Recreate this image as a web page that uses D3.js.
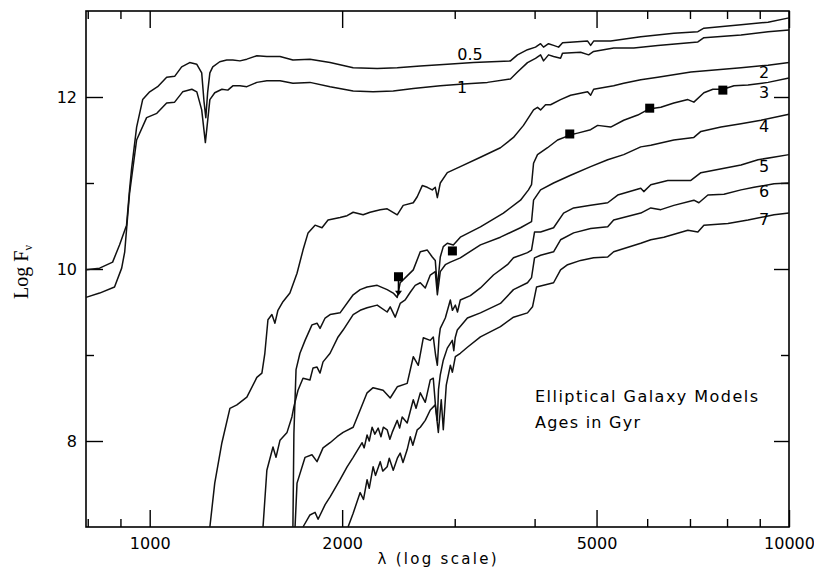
<!DOCTYPE html>
<html>
<head>
<meta charset="utf-8">
<script src="https://cdn.jsdelivr.net/npm/d3@7"></script>
<style>
  body { margin: 0; background: #fff; }
  svg { display: block; }
  .axis text { font-family: 'DejaVu Sans', sans-serif; font-size: 16px; fill: #000; }
  .axis line { stroke: #000; stroke-width: 1.4; }
  .axis path { display: none; }
  .curve { fill: none; stroke: #111; stroke-width: 1.5; stroke-linejoin: round; }
  .label { font-family: 'DejaVu Sans', sans-serif; font-size: 16px; fill: #000; }
</style>
</head>
<body>
<div id="chart"></div>
<script>
// model spectra: [wavelength (A), log F_nu], one array per age (Gyr)
var ages = ['0.5', '1', '2', '3', '4', '5', '6', '7']

var age05 = [[795, 9.99], [835, 10.01], [875, 10.08], [897, 10.28], [920, 10.51], [930, 10.92], [937, 11.17], [954, 11.65], [975, 11.97], [1000, 12.06], [1029, 12.12], [1063, 12.23], [1094, 12.24], [1122, 12.35], [1155, 12.40], [1185, 12.38], [1206, 12.28], [1216, 11.95], [1224, 11.76], [1232, 12.05], [1242, 12.28], [1255, 12.35], [1287, 12.41], [1320, 12.43], [1349, 12.43], [1384, 12.42], [1419, 12.44], [1471, 12.48], [1525, 12.47], [1599, 12.47], [1675, 12.43], [1781, 12.44], [1915, 12.40], [2081, 12.34], [2269, 12.33], [2439, 12.34], [2650, 12.36], [2921, 12.38], [3208, 12.40], [3667, 12.42], [3761, 12.49], [3899, 12.55], [4013, 12.58], [4087, 12.62], [4131, 12.58], [4206, 12.62], [4283, 12.60], [4361, 12.58], [4424, 12.63], [4604, 12.64], [4842, 12.65], [4895, 12.60], [4948, 12.65], [5261, 12.65], [5863, 12.70], [6605, 12.74], [7202, 12.76], [7360, 12.80], [8412, 12.84], [9273, 12.87], [10000, 12.92]]

var age1 = [[795, 9.67], [835, 9.72], [881, 9.79], [904, 10.01], [914, 10.20], [924, 10.63], [930, 10.88], [954, 11.50], [989, 11.76], [1026, 11.81], [1063, 11.93], [1094, 11.94], [1126, 12.06], [1164, 12.09], [1185, 12.06], [1206, 11.85], [1222, 11.47], [1242, 11.97], [1264, 12.05], [1297, 12.09], [1325, 12.08], [1349, 12.13], [1384, 12.13], [1419, 12.12], [1471, 12.17], [1525, 12.19], [1599, 12.19], [1675, 12.16], [1781, 12.17], [1915, 12.12], [2081, 12.07], [2236, 12.06], [2404, 12.07], [2584, 12.10], [2848, 12.13], [3095, 12.15], [3375, 12.17], [3667, 12.21], [3761, 12.29], [3899, 12.40], [4013, 12.45], [4087, 12.49], [4131, 12.42], [4206, 12.49], [4283, 12.47], [4392, 12.45], [4424, 12.51], [4721, 12.52], [4860, 12.49], [4948, 12.53], [5318, 12.57], [5717, 12.57], [6234, 12.60], [7202, 12.64], [7360, 12.69], [8412, 12.72], [9273, 12.76], [10000, 12.78]]

var age2 = [[1242, 7.00], [1264, 7.51], [1297, 7.98], [1335, 8.38], [1369, 8.42], [1419, 8.51], [1471, 8.74], [1498, 8.79], [1514, 9.02], [1531, 9.41], [1553, 9.47], [1570, 9.37], [1587, 9.52], [1616, 9.62], [1657, 9.72], [1700, 9.95], [1737, 10.22], [1769, 10.42], [1814, 10.51], [1860, 10.48], [1901, 10.57], [1985, 10.60], [2036, 10.62], [2081, 10.66], [2157, 10.63], [2212, 10.66], [2294, 10.69], [2352, 10.70], [2439, 10.63], [2492, 10.74], [2584, 10.77], [2621, 10.84], [2669, 10.97], [2718, 10.95], [2767, 10.92], [2797, 10.95], [2818, 10.83], [2848, 11.00], [2921, 11.12], [3061, 11.19], [3291, 11.30], [3537, 11.41], [3707, 11.53], [3843, 11.67], [3985, 11.85], [4042, 11.88], [4087, 11.85], [4161, 11.91], [4237, 11.91], [4392, 11.97], [4554, 12.02], [4842, 12.06], [4895, 12.02], [4948, 12.09], [5318, 12.13], [5514, 12.16], [5863, 12.20], [6234, 12.23], [7023, 12.29], [8412, 12.34], [9273, 12.37], [10000, 12.40]]

var age3 = [[1675, 7.00], [1681, 8.09], [1694, 8.83], [1718, 9.02], [1750, 9.17], [1794, 9.35], [1827, 9.37], [1847, 9.31], [1881, 9.43], [1915, 9.47], [1985, 9.49], [2081, 9.70], [2134, 9.76], [2188, 9.79], [2269, 9.81], [2352, 9.76], [2404, 9.72], [2439, 9.67], [2465, 9.84], [2528, 9.92], [2584, 9.99], [2650, 10.20], [2718, 10.22], [2767, 10.14], [2797, 10.10], [2818, 9.78], [2848, 10.14], [2879, 10.26], [2921, 10.30], [2985, 10.28], [3061, 10.37], [3291, 10.49], [3575, 10.65], [3802, 10.80], [3913, 10.92], [3956, 10.98], [3985, 11.23], [4042, 11.33], [4191, 11.41], [4345, 11.50], [4554, 11.56], [4671, 11.58], [4895, 11.62], [5020, 11.67], [5261, 11.65], [5514, 11.73], [5800, 11.79], [6035, 11.86], [6302, 11.88], [6605, 11.93], [6947, 11.97], [7099, 11.94], [7360, 12.05], [7603, 12.09], [7883, 12.09], [8202, 12.13], [8627, 12.14], [9273, 12.17], [10000, 12.22]]

var age4 = [[1504, 7.00], [1525, 7.66], [1559, 7.93], [1576, 7.81], [1599, 8.01], [1640, 8.10], [1669, 8.28], [1681, 8.40], [1706, 8.59], [1737, 8.73], [1781, 8.71], [1801, 8.85], [1827, 8.86], [1847, 8.79], [1867, 8.92], [1915, 9.02], [1971, 9.21], [2007, 9.29], [2081, 9.47], [2134, 9.52], [2188, 9.55], [2269, 9.58], [2352, 9.50], [2378, 9.56], [2421, 9.44], [2465, 9.60], [2510, 9.64], [2556, 9.73], [2602, 9.81], [2650, 9.84], [2698, 9.78], [2747, 9.93], [2797, 9.97], [2818, 9.70], [2848, 9.97], [2900, 10.05], [2953, 10.08], [3061, 10.13], [3291, 10.28], [3537, 10.37], [3802, 10.48], [3956, 10.55], [3985, 10.80], [4087, 10.92], [4283, 11.00], [4554, 11.09], [4895, 11.19], [5205, 11.27], [5514, 11.33], [5863, 11.42], [6079, 11.44], [6605, 11.50], [7099, 11.53], [7281, 11.60], [7826, 11.65], [8412, 11.69], [9041, 11.73], [10000, 11.80]]

var age5 = [[1688, 7.00], [1700, 7.51], [1750, 7.81], [1794, 7.84], [1827, 7.76], [1867, 7.92], [1915, 7.98], [1964, 8.05], [2007, 8.10], [2081, 8.16], [2134, 8.36], [2188, 8.56], [2236, 8.62], [2318, 8.59], [2378, 8.50], [2439, 8.63], [2528, 8.67], [2584, 8.98], [2631, 8.88], [2679, 9.20], [2747, 9.17], [2777, 9.21], [2800, 9.00], [2818, 8.88], [2835, 9.20], [2848, 9.31], [2900, 9.43], [2953, 9.64], [2975, 9.52], [3007, 9.58], [3030, 9.50], [3061, 9.64], [3174, 9.69], [3291, 9.78], [3449, 9.93], [3627, 10.05], [3707, 10.13], [3899, 10.19], [3956, 10.22], [3999, 10.43], [4087, 10.43], [4283, 10.48], [4440, 10.65], [4604, 10.71], [4895, 10.74], [5205, 10.77], [5396, 10.86], [5863, 10.94], [5927, 10.90], [6079, 10.98], [6463, 11.03], [7023, 11.03], [7281, 11.12], [8412, 11.21], [8944, 11.27], [10000, 11.33]]

var age6 = [[1737, 7.00], [1781, 7.14], [1814, 7.17], [1834, 7.09], [1881, 7.26], [1915, 7.35], [1985, 7.55], [2036, 7.70], [2081, 7.81], [2149, 7.98], [2165, 7.92], [2188, 8.07], [2205, 8.00], [2228, 8.16], [2250, 8.08], [2277, 8.15], [2300, 8.05], [2320, 8.16], [2352, 8.13], [2375, 8.02], [2395, 8.10], [2439, 8.24], [2460, 8.15], [2483, 8.28], [2528, 8.21], [2584, 8.48], [2610, 8.38], [2650, 8.56], [2698, 8.45], [2747, 8.71], [2777, 8.73], [2800, 8.40], [2818, 8.24], [2830, 8.60], [2848, 8.77], [2879, 8.94], [2921, 9.08], [2974, 9.17], [2990, 9.05], [3005, 9.20], [3028, 9.29], [3140, 9.43], [3291, 9.49], [3537, 9.60], [3707, 9.76], [3899, 9.84], [3956, 9.90], [3999, 10.13], [4087, 10.16], [4283, 10.20], [4392, 10.34], [4604, 10.42], [4895, 10.47], [5205, 10.49], [5318, 10.57], [5863, 10.65], [6079, 10.71], [6302, 10.69], [6605, 10.74], [7099, 10.80], [7228, 10.77], [7467, 10.86], [7911, 10.87], [8412, 10.92], [8816, 10.95], [9476, 10.99], [10000, 11.00]]

var age7 = [[2043, 7.00], [2081, 7.16], [2134, 7.40], [2160, 7.32], [2188, 7.55], [2205, 7.45], [2236, 7.70], [2255, 7.60], [2294, 7.76], [2315, 7.65], [2352, 7.70], [2370, 7.80], [2404, 7.66], [2440, 7.80], [2465, 7.86], [2490, 7.75], [2528, 7.90], [2556, 8.05], [2580, 7.95], [2621, 8.13], [2650, 8.16], [2698, 8.24], [2747, 8.36], [2797, 8.42], [2828, 8.10], [2858, 8.48], [2879, 8.13], [2910, 8.65], [2953, 8.88], [2975, 8.80], [3007, 8.98], [3061, 9.02], [3140, 9.09], [3291, 9.21], [3537, 9.33], [3707, 9.44], [3899, 9.49], [3970, 9.56], [4028, 9.79], [4283, 9.84], [4392, 9.99], [4505, 10.05], [4721, 10.10], [4948, 10.13], [5205, 10.14], [5318, 10.20], [5863, 10.30], [6079, 10.34], [6371, 10.37], [6947, 10.45], [7202, 10.43], [7360, 10.51], [8026, 10.53], [8627, 10.57], [9476, 10.63], [10000, 10.65]]

var spectra = [age05, age1, age2, age3, age4, age5, age6, age7]

// observed points (filled squares)
var obsLambda = [2450, 2975, 4540, 6055, 7880]
var obsLogF = [9.91, 10.21, 11.57, 11.87, 12.08]
var arrowLow = 9.69

// ticks
var majorX = [1000, 2000, 5000, 10000]
var minorX = [800, 900, 3000, 4000, 6000, 7000, 8000, 9000]
var majorY = [8, 10, 12]
var minorY = [9, 11]

// label placement (pixels) for the age labels
var labelPos = [[470, 60], [462, 93], [764, 78], [764, 98],
  [764, 132], [764, 172], [764, 197], [764, 225]]

var margin = { top: 11, right: 25, bottom: 41, left: 86 }
var width = 814 - margin.left - margin.right
var height = 568 - margin.top - margin.bottom

var x = d3.scaleLog()
  .domain([795, 10000])
  .range([0, width])

var y = d3.scaleLinear()
  .domain([7, 13])
  .range([height, 0])

var root = d3.select('#chart')
  .append('svg')
  .attr('width', 814)
  .attr('height', 568)

var svg = root.append('g')
  .attr('transform', 'translate(' + margin.left + ',' + margin.top + ')')

// axes: ticks point inward on all four sides
svg.append('g')
  .attr('class', 'axis')
  .attr('transform', 'translate(0,' + height + ')')
  .call(d3.axisBottom(x).tickValues(majorX).tickFormat(d3.format('d'))
    .tickSizeInner(-17).tickSizeOuter(0).tickPadding(11))

svg.append('g')
  .attr('class', 'axis')
  .attr('transform', 'translate(0,' + height + ')')
  .call(d3.axisBottom(x).tickValues(minorX).tickFormat('')
    .tickSizeInner(-8).tickSizeOuter(0))

svg.append('g')
  .attr('class', 'axis')
  .call(d3.axisTop(x).tickValues(majorX).tickFormat('')
    .tickSizeInner(-17).tickSizeOuter(0))

svg.append('g')
  .attr('class', 'axis')
  .call(d3.axisTop(x).tickValues(minorX).tickFormat('')
    .tickSizeInner(-8).tickSizeOuter(0))

svg.append('g')
  .attr('class', 'axis')
  .call(d3.axisLeft(y).tickValues(majorY).tickFormat(d3.format('d'))
    .tickSizeInner(-17).tickSizeOuter(0).tickPadding(9))

svg.append('g')
  .attr('class', 'axis')
  .call(d3.axisLeft(y).tickValues(minorY).tickFormat('')
    .tickSizeInner(-8).tickSizeOuter(0))

svg.append('g')
  .attr('class', 'axis')
  .attr('transform', 'translate(' + width + ',0)')
  .call(d3.axisRight(y).tickValues(majorY).tickFormat('')
    .tickSizeInner(-15).tickSizeOuter(0))

svg.append('g')
  .attr('class', 'axis')
  .attr('transform', 'translate(' + width + ',0)')
  .call(d3.axisRight(y).tickValues(minorY).tickFormat('')
    .tickSizeInner(-8).tickSizeOuter(0))

svg.append('rect')
  .attr('width', width)
  .attr('height', height)
  .style('fill', 'none')
  .style('stroke', '#000')
  .style('stroke-width', 1.6)

// spectra
var line = d3.line()
  .x(function (d) { return x(d[0]) })
  .y(function (d) { return y(d[1]) })

svg.selectAll('.curve')
  .data(spectra)
  .enter().append('path')
  .attr('class', 'curve')
  .attr('d', line)

// age labels
svg.selectAll('.label')
  .data(ages)
  .enter().append('text')
  .attr('class', 'label')
  .attr('x', function (d, i) { return labelPos[i][0] - margin.left })
  .attr('y', function (d, i) { return labelPos[i][1] - margin.top })
  .style('text-anchor', 'middle')
  .text(function (d) { return d })

// observed points and the arrow below the first one
var sq = 9
svg.selectAll('.obs')
  .data(obsLambda)
  .enter().append('rect')
  .attr('class', 'obs')
  .attr('x', function (d) { return x(d) - sq / 2 })
  .attr('y', function (d, i) { return y(obsLogF[i]) - sq / 2 })
  .attr('width', sq)
  .attr('height', sq)
  .style('fill', '#000')

var ax = x(obsLambda[0])
svg.append('line')
  .attr('x1', ax).attr('x2', ax)
  .attr('y1', y(obsLogF[0]))
  .attr('y2', y(arrowLow) - 4)
  .style('stroke', '#000')
  .style('stroke-width', 1.6)

svg.append('path')
  .attr('d', 'M' + (ax - 3.5) + ',' + (y(arrowLow) - 5) + 'L' + (ax + 3.5) + ',' + (y(arrowLow) - 5) +
    'L' + ax + ',' + y(arrowLow) + 'Z')
  .style('fill', '#000')

// annotation
root.append('text')
  .attr('x', 535)
  .attr('y', 402)
  .attr('textLength', 223)
  .attr('lengthAdjust', 'spacing')
  .style('font-family', 'DejaVu Sans, sans-serif')
  .style('font-size', '16px')
  .text('Elliptical Galaxy Models')

root.append('text')
  .attr('x', 535)
  .attr('y', 428)
  .attr('textLength', 105)
  .attr('lengthAdjust', 'spacing')
  .style('font-family', 'DejaVu Sans, sans-serif')
  .style('font-size', '16px')
  .text('Ages in Gyr')

// axis titles
root.append('text')
  .attr('x', 437)
  .attr('y', 564)
  .attr('textLength', 119)
  .attr('lengthAdjust', 'spacing')
  .style('text-anchor', 'middle')
  .style('font-family', 'DejaVu Sans, sans-serif')
  .style('font-size', '15px')
  .text('λ (log scale)')

var ylab = root.append('text')
  .attr('transform', 'translate(28,272) rotate(-90)')
  .style('text-anchor', 'middle')
  .style('font-family', 'Liberation Serif, serif')
  .style('font-size', '20px')

ylab.append('tspan').text('Log F')
ylab.append('tspan')
  .attr('dy', 4)
  .style('font-size', '12px')
  .text('ν')
</script>
</body>
</html>
